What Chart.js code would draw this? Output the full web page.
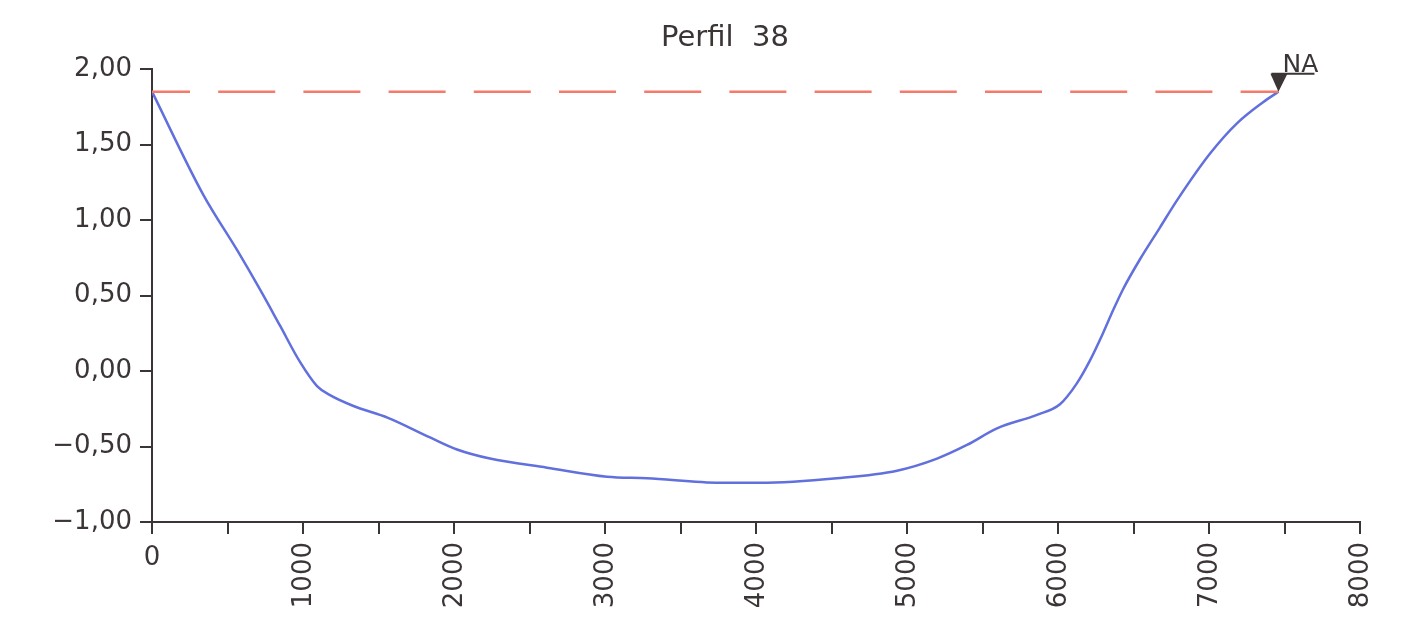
<!DOCTYPE html>
<html>
<head>
<meta charset="utf-8">
<title>Perfil 38</title>
<script src="https://cdn.jsdelivr.net/npm/chart.js@4.4.1/dist/chart.umd.min.js"></script>
<style>
  html, body { margin: 0; padding: 0; background: #fff; }
  #wrap { width: 1420px; height: 625px; position: relative; }
</style>
</head>
<body>
<div id="wrap"><canvas id="chart"></canvas></div>
<script>
// profile section
const title = 'Perfil  38';
const stations = [0, 338, 570, 715, 848, 980, 1093, 1179, 1330, 1563, 1841, 2020, 2238, 2616, 3013, 3278,
    3762, 4026, 4536, 4934, 5199, 5397, 5596, 5861, 6013, 6126, 6212, 6298, 6364, 6430, 6543, 6675,
    6788, 7007, 7185, 7358, 7460];
const bed = [1.85, 1.17, 0.79, 0.54, 0.30, 0.06, -0.10, -0.16, -0.23, -0.31, -0.44, -0.52, -0.58, -0.64, -0.70, -0.71,
    -0.74, -0.74, -0.71, -0.66, -0.58, -0.49, -0.38, -0.29, -0.22, -0.08, 0.07, 0.25, 0.40, 0.54, 0.74, 0.95,
    1.13, 1.44, 1.64, 1.78, 1.85];
const waterStations = [0, 7460];
const waterLevel = [1.85, 1.85];
const naLabel = 'NA';
const xLabels = ['0', '1000', '2000', '3000', '4000', '5000', '6000', '7000', '8000'];

const INK = '#3b3535';
const FONT = "'DejaVu Sans', sans-serif";

function fmtY(v) {
    return v.toFixed(2).replace('.', ',').replace('-', '\u2212');
}

const overlay = {
    id: 'overlay',
    afterDraw(chart) {
        const { ctx, scales: { x, y } } = chart;
        ctx.save();
        ctx.fillStyle = INK;
        // title
        ctx.font = '29px ' + FONT;
        ctx.textAlign = 'center';
        ctx.textBaseline = 'alphabetic';
        ctx.fillText(title, 725, 46);

        // x labels, rotated except the first
        ctx.font = '26px ' + FONT;
        xLabels.forEach(lbl => {
            const px = x.getPixelForValue(Number(lbl));
            if (lbl === '0') {
                ctx.textAlign = 'center';
                ctx.textBaseline = 'top';
                ctx.fillText(lbl, px, 545);
            } else {
                ctx.save();
                ctx.translate(px, 542);
                ctx.rotate(-Math.PI / 2);
                ctx.textAlign = 'right';
                ctx.textBaseline = 'middle';
                ctx.fillText(lbl, 0, 1);
                ctx.restore();
            }
        });

        // water level marker
        const ax = x.getPixelForValue(waterStations[1]);
        const ay = y.getPixelForValue(waterLevel[1]);
        ctx.beginPath();
        ctx.moveTo(ax, ay);
        ctx.lineTo(ax - 8, ay - 18);
        ctx.lineTo(ax + 9, ay - 18);
        ctx.closePath();
        ctx.fill();
        ctx.strokeStyle = INK;
        ctx.lineWidth = 2;
        ctx.beginPath();
        ctx.moveTo(ax - 7, ay - 18);
        ctx.lineTo(ax + 36, ay - 18);
        ctx.stroke();
        ctx.font = '25px ' + FONT;
        ctx.textAlign = 'left';
        ctx.textBaseline = 'alphabetic';
        ctx.fillText(naLabel, ax + 4, ay - 20);
        ctx.restore();
    }
};

new Chart(document.getElementById('chart'), {
    type: 'line',
    data: {
        datasets: [
            {
                data: waterStations.map((s, i) => ({ x: s, y: waterLevel[i] })),
                borderColor: '#f47b6b',
                borderWidth: 2.5,
                borderDash: [57, 28.2],
                borderDashOffset: 19,
                pointRadius: 0,
            },
            {
                data: stations.map((s, i) => ({ x: s, y: bed[i] })),
                borderColor: '#6170dd',
                borderWidth: 2.5,
                pointRadius: 0,
                cubicInterpolationMode: 'monotone',
            },
        ],
    },
    options: {
        responsive: true,
        maintainAspectRatio: false,
        animation: false,
        layout: { padding: { top: 69, right: 60, left: 0, bottom: 0 } },
        plugins: { legend: { display: false }, tooltip: { enabled: false } },
        scales: {
            x: {
                type: 'linear',
                min: 0,
                max: 8000,
                ticks: { stepSize: 500, autoSkip: false, callback: () => '' },
                grid: { drawOnChartArea: false, drawTicks: true, tickLength: 12, color: INK, lineWidth: 2 },
                border: { color: INK, width: 2 },
                afterFit: s => { s.height = 103; },
            },
            y: {
                min: -1,
                max: 2,
                ticks: {
                    stepSize: 0.5,
                    color: INK,
                    padding: 8,
                    font: { family: FONT, size: 26 },
                    callback: v => fmtY(v),
                },
                grid: { drawOnChartArea: false, drawTicks: true, tickLength: 12, color: INK, lineWidth: 2 },
                border: { color: INK, width: 2 },
                afterFit: s => { s.width = 152; },
            },
        },
    },
    plugins: [overlay],
});
</script>
</body>
</html>
